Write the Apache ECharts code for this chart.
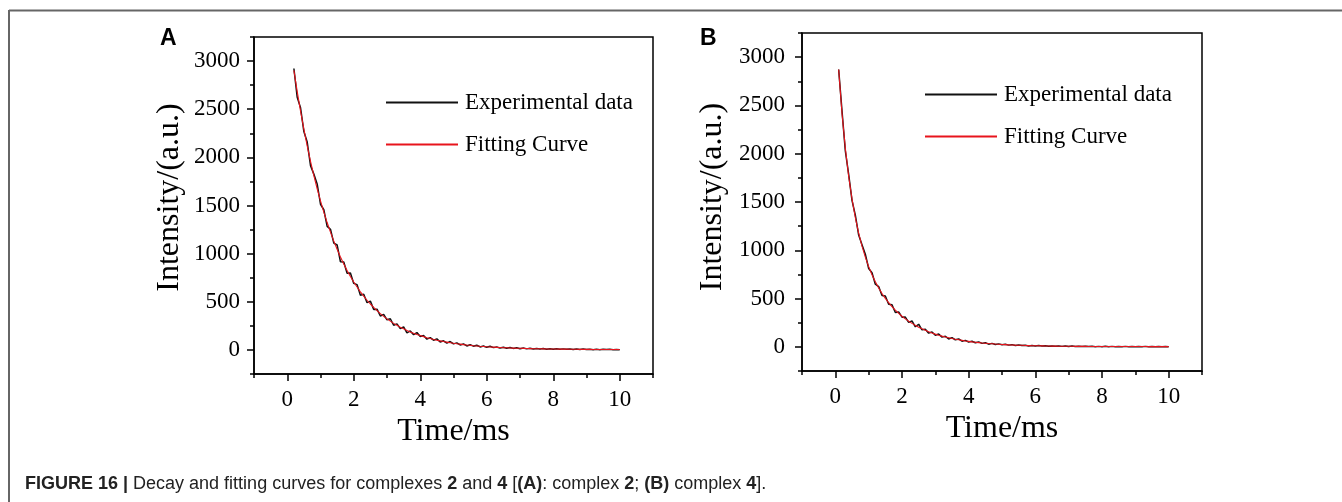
<!DOCTYPE html>
<html>
<head>
<meta charset="utf-8">
<script src="https://cdn.jsdelivr.net/npm/echarts@6/dist/echarts.min.js"></script>
<style>
  html, body { margin: 0; padding: 0; background: #fff; }
  #chart { width: 1342px; height: 502px; }
</style>
</head>
<body>
<div id="chart"></div>
<script>
// ---------- DATA ----------
const timeB = [
  0.1,0.2,0.3,0.4,0.5,0.6,0.7,0.8,0.9,1.0,
  1.1,1.2,1.3,1.4,1.5,1.6,1.7,1.8,1.9,2.0,
  2.1,2.2,2.3,2.4,2.5,2.6,2.7,2.8,2.9,3.0,
  3.1,3.2,3.3,3.4,3.5,3.6,3.7,3.8,3.9,4.0,
  4.1,4.2,4.3,4.4,4.5,4.6,4.7,4.8,4.9,5.0,
  5.1,5.2,5.3,5.4,5.5,5.6,5.7,5.8,5.9,6.0,
  6.1,6.2,6.3,6.4,6.5,6.6,6.7,6.8,6.9,7.0,
  7.1,7.2,7.3,7.4,7.5,7.6,7.7,7.8,7.9,8.0,
  8.1,8.2,8.3,8.4,8.5,8.6,8.7,8.8,8.9,9.0,
  9.1,9.2,9.3,9.4,9.5,9.6,9.7,9.8,9.9,10.0
];
const timeA = timeB.slice(1); // 0.2 ... 10.0

const expA = [
  2923,2623,2515,2268,2159,1914,1826,1724,1513,1456,
  1283,1253,1110,1090,916,913,796,798,691,678,
  568,578,491,507,421,423,352,369,313,324,
  256,271,221,239,177,197,158,180,139,150,
  112,128,101,115,82,95,71,87,63,73,
  52,62,41,54,39,49,31,41,27,38,
  24,31,19,28,18,26,16,22,12,19,
  11,17,10,16,10,14,6,12,6,12,
  6,11,6,9,4,9,4,9,4,8,
  3,7,2,7,4,7,2,5,2
];
const fitA = [
  2903,2683,2480,2293,2119,1959,1811,1674,1548,1431,
  1323,1223,1130,1045,966,893,826,763,706,653,
  603,558,516,477,441,408,377,349,323,299,
  276,256,236,219,202,187,173,160,149,138,
  127,118,109,101,94,87,81,75,69,64,
  60,55,51,48,44,41,38,36,33,31,
  29,27,25,23,22,20,19,18,17,16,
  15,14,13,12,12,11,10,10,9,9,
  8,8,8,7,7,7,6,6,6,6,
  5,5,5,5,5,5,4,4,4
];
const expB = [
  2872,2444,2028,1787,1517,1363,1158,1058,959,811,
  767,649,624,532,527,442,436,355,362,307,
  308,254,268,208,234,177,183,142,154,120,
  133,101,110,82,96,73,82,59,67,50,
  58,43,51,36,42,28,36,24,31,22,
  27,18,23,14,20,14,17,10,14,10,
  14,8,11,6,10,6,9,5,9,4,
  8,3,6,3,7,3,6,2,5,2,
  6,2,5,1,4,2,5,2,4,1,
  4,2,5,1,3,0,3,1,3,1
];
const fitB = [
  2872,2419,2058,1767,1532,1338,1178,1043,929,831,
  747,674,609,552,502,457,416,380,347,317,
  290,266,243,223,204,187,171,157,144,132,
  121,111,102,94,86,79,73,67,61,57,
  52,48,44,40,37,34,32,29,27,25,
  23,21,20,18,17,16,14,13,12,12,
  11,10,9,9,8,8,7,7,6,6,
  6,5,5,5,5,4,4,4,4,4,
  4,3,3,3,3,3,3,3,3,3,
  3,3,3,2,2,2,2,2,2,2
];

const seriesNames = ['Experimental data', 'Fitting Curve'];
const xLabelTicks = [0, 2, 4, 6, 8, 10];
const xMinorTicks = [-1, 1, 3, 5, 7, 9, 11];
const yLabelTicks = [0, 500, 1000, 1500, 2000, 2500, 3000];
const yMinorTicks = [-250, 250, 750, 1250, 1750, 2250, 2750, 3250];
const xName = 'Time/ms';
const yName = 'Intensity/(a.u.)';
const panelLabels = ['A', 'B'];

// ---------- CHART ----------
const SERIF = '"Liberation Serif", "Times New Roman", serif';
const SANS = '"Liberation Sans", Arial, Helvetica, sans-serif';
const chart = echarts.init(document.getElementById('chart'), null, { renderer: 'canvas' });
const plain = v => String(v);

function xAxes(gridIndex, nameGap) {
  return [
    {
      type: 'value', gridIndex, min: -1, max: 11, position: 'bottom',
      name: xName, nameLocation: 'middle', nameGap,
      nameTextStyle: { fontFamily: SERIF, fontSize: 32, color: '#000' },
      axisLine: { show: true, onZero: false, lineStyle: { color: '#000', width: 1.5 } },
      axisTick: { show: true, inside: false, length: 7, customValues: xLabelTicks, lineStyle: { color: '#000', width: 1.5 } },
      axisLabel: { show: true, customValues: xLabelTicks, formatter: plain, margin: 14, fontFamily: SERIF, fontSize: 23, color: '#000' },
      splitLine: { show: false }
    },
    {
      type: 'value', gridIndex, min: -1, max: 11, position: 'bottom',
      axisLine: { show: false, onZero: false },
      axisTick: { show: true, inside: false, length: 4, customValues: xMinorTicks, lineStyle: { color: '#000', width: 1.5 } },
      axisLabel: { show: false },
      splitLine: { show: false }
    }
  ];
}
function yAxes(gridIndex, nameGap, labelMargin, namePadStart) {
  return [
    {
      type: 'value', gridIndex, min: -250, max: 3250, position: 'left',
      name: yName, nameLocation: 'middle', nameGap,
      nameTextStyle: { fontFamily: SERIF, fontSize: 32, color: '#000', padding: [0, 0, 0, namePadStart] },
      axisLine: { show: true, onZero: false, lineStyle: { color: '#000', width: 1.5 } },
      axisTick: { show: true, inside: false, length: 7, customValues: yLabelTicks, lineStyle: { color: '#000', width: 1.5 } },
      axisLabel: { show: true, customValues: yLabelTicks, formatter: plain, margin: labelMargin, fontFamily: SERIF, fontSize: 23, color: '#000' },
      splitLine: { show: false }
    },
    {
      type: 'value', gridIndex, min: -250, max: 3250, position: 'left',
      axisLine: { show: false, onZero: false },
      axisTick: { show: true, inside: false, length: 4, customValues: yMinorTicks, lineStyle: { color: '#000', width: 1.5 } },
      axisLabel: { show: false },
      splitLine: { show: false }
    }
  ];
}
function lineSeries(name, xi, times, vals, color, width, z) {
  return {
    type: 'line', name, xAxisIndex: xi, yAxisIndex: xi,
    data: times.map((t, i) => [t, vals[i]]),
    symbol: 'none', showSymbol: false, smooth: false,
    lineStyle: { color, width }, itemStyle: { color }, z,
    silent: true
  };
}
function legend(left, top) {
  return {
    orient: 'vertical', left, top, padding: 0, itemWidth: 72, itemHeight: 2, itemGap: 19,
    icon: 'rect', selectedMode: false,
    data: seriesNames,
    textStyle: { fontFamily: SERIF, fontSize: 23, color: '#000', padding: [6, 0, 0, 2] }
  };
}

const option = {
  animation: false,
  backgroundColor: '#fff',
  grid: [
    { left: 254, top: 37, width: 399, height: 337, show: true, borderColor: '#000', borderWidth: 1.5, backgroundColor: 'transparent' },
    { left: 802, top: 33, width: 400, height: 338, show: true, borderColor: '#000', borderWidth: 1.5, backgroundColor: 'transparent' }
  ],
  xAxis: [...xAxes(0, 35), ...xAxes(1, 38)],
  yAxis: [...yAxes(0, 68, 14, 16), ...yAxes(1, 73, 17, 10)],
  legend: [legend(386, 91), legend(925, 83)],
  series: [
    lineSeries(seriesNames[0], 0, timeA, expA, '#111', 1.5, 2),
    lineSeries(seriesNames[1], 0, timeA, fitA, '#e8141c', 1.1, 3),
    lineSeries(seriesNames[0], 2, timeB, expB, '#111', 1.5, 2),
    lineSeries(seriesNames[1], 2, timeB, fitB, '#e8141c', 1.1, 3)
  ],
  graphic: [
    { type: 'line', shape: { x1: 9, y1: 10.5, x2: 1342, y2: 10.5 }, style: { stroke: '#666', lineWidth: 2 }, silent: true },
    { type: 'line', shape: { x1: 9, y1: 10, x2: 9, y2: 502 }, style: { stroke: '#666', lineWidth: 2 }, silent: true },
    { type: 'text', left: 160, top: 27, style: { text: panelLabels[0], font: 'bold 23px ' + SANS, fill: '#000' }, silent: true },
    { type: 'text', left: 700, top: 27, style: { text: panelLabels[1], font: 'bold 23px ' + SANS, fill: '#000' }, silent: true },
    {
      type: 'text', left: 25, top: 475, silent: true,
      style: {
        text: '{b|FIGURE 16 |} Decay and fitting curves for complexes {b|2} and {b|4} [{b|(A)}: complex {b|2}; {b|(B)} complex {b|4}].',
        fontFamily: SANS, fontSize: 18, fill: '#222',
        rich: { b: { fontFamily: SANS, fontSize: 18, fontWeight: 'bold', fill: '#222' } }
      }
    }
  ]
};
chart.setOption(option);
</script>
</body>
</html>
